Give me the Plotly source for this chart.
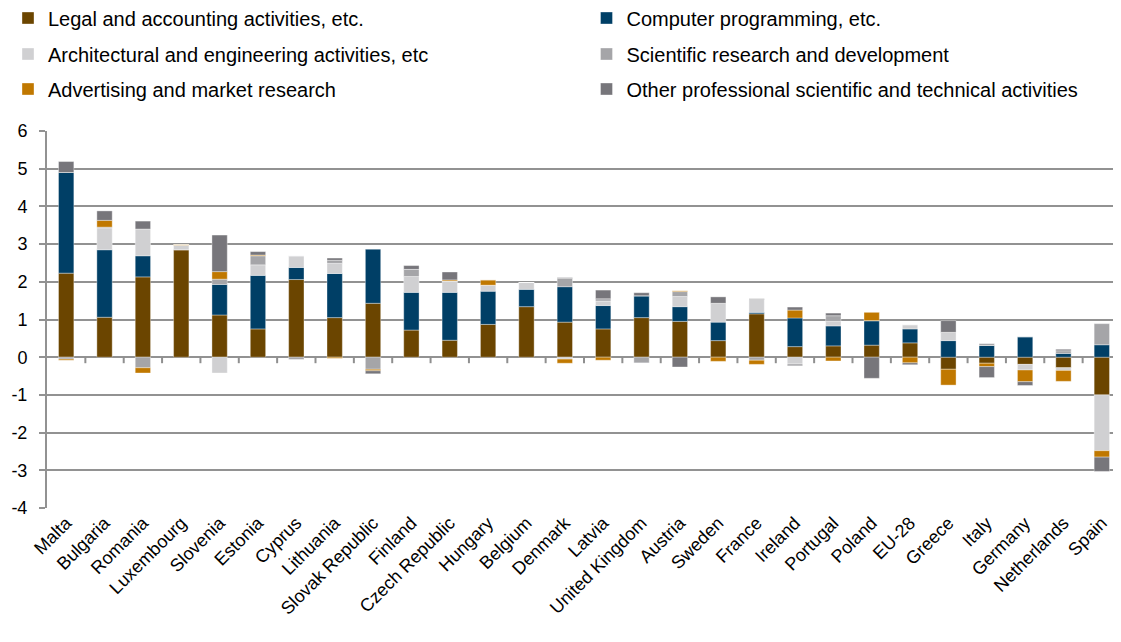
import plotly.graph_objects as go

categories = ["Malta", "Bulgaria", "Romania", "Luxembourg", "Slovenia", "Estonia", "Cyprus",
              "Lithuania", "Slovak Republic", "Finland", "Czech Republic", "Hungary", "Belgium",
              "Denmark", "Latvia", "United Kingdom", "Austria", "Sweden", "France", "Ireland",
              "Portugal", "Poland", "EU-28", "Greece", "Italy", "Germany", "Netherlands", "Spain"]

legal = [2.23, 1.06, 2.13, 2.85, 1.12, 0.75, 2.06, 1.05, 1.43, 0.72, 0.45, 0.87, 1.34, 0.93,
         0.75, 1.05, 0.95, 0.44, 1.15, 0.28, 0.30, 0.32, 0.38, -0.32, -0.16, -0.19, -0.28, -1.00]
computer = [2.67, 1.79, 0.56, 0.00, 0.81, 1.42, 0.32, 1.17, 1.44, 1.00, 1.27, 0.88, 0.46, 0.94,
            0.62, 0.58, 0.39, 0.49, 0.04, 0.76, 0.53, 0.65, 0.37, 0.44, 0.31, 0.54, 0.10, 0.33]
architectural = [0.00, 0.58, 0.71, 0.12, -0.42, 0.28, 0.31, 0.27, 0.00, 0.42, 0.30, 0.16, 0.18, -0.05,
                 0.12, 0.00, 0.27, 0.50, 0.34, -0.18, 0.12, 0.00, 0.11, 0.22, 0.00, -0.15, -0.07, -1.48]
scientific = [-0.05, 0.02, -0.28, 0.00, 0.14, 0.24, -0.06, 0.08, -0.32, 0.19, 0.00, 0.00, 0.00, 0.22,
              0.06, -0.15, 0.13, 0.00, -0.08, -0.05, 0.15, 0.00, 0.00, 0.00, 0.05, 0.00, 0.07, 0.56]
advertising = [-0.03, 0.18, -0.14, 0.02, 0.20, 0.02, 0.00, -0.03, -0.04, 0.00, 0.03, 0.14, 0.00, -0.11,
               -0.08, 0.00, 0.02, -0.11, -0.11, 0.21, -0.10, 0.22, -0.15, -0.42, -0.09, -0.31, -0.29, -0.17]
other = [0.29, 0.25, 0.21, 0.00, 0.97, 0.09, 0.00, 0.06, -0.08, 0.10, 0.21, 0.00, 0.00, 0.02,
         0.23, 0.08, -0.26, 0.17, 0.02, 0.08, 0.07, -0.56, -0.05, 0.31, -0.29, -0.10, 0.04, -0.38]

y_ticks = [-4, -3, -2, -1, 0, 1, 2, 3, 4, 5, 6]

series_names = ["Legal and accounting activities, etc.",
                "Computer programming, etc.",
                "Architectural and engineering activities, etc",
                "Scientific research and development",
                "Advertising and market research",
                "Other professional scientific and technical activities"]
series_values = [legal, computer, architectural, scientific, advertising, other]
series_colors = ["#6b4500", "#003f66", "#d0d0d2", "#a5a5a8", "#c07800", "#77767b"]

FONT = "Liberation Sans, Arial, sans-serif"
# the page body adds an 8px margin, so the figure is sized to fill the rest of the window
W, H = 1113, 634

fig = go.Figure()
legend_layouts = {}
# legend grid: two columns, three rows (row-major order as in the reference)
col_x = [-5.5, 578.5]
row_y = [10, 46, 81]
for k, (name, vals, color) in enumerate(zip(series_names, series_values, series_colors)):
    lg = "legend" if k == 0 else f"legend{k + 1}"
    fig.add_trace(go.Bar(
        x=categories, y=vals, name=name, legend=lg,
        marker=dict(color=color, line=dict(width=0.6, color="rgba(255,255,255,0.6)")),
    ))
    legend_layouts[lg] = dict(
        orientation="h", xref="container", yref="container",
        x=col_x[k % 2] / W, xanchor="left",
        y=1 - row_y[k // 2] / H, yanchor="middle",
        font=dict(family=FONT, size=20, color="#000000"),
        bgcolor="rgba(0,0,0,0)", itemwidth=30,
    )

# small tick marks on the zero line between categories
shapes = []
for i in range(1, len(categories)):
    shapes.append(dict(type="line", xref="x", yref="y", x0=i - 0.5, x1=i - 0.5,
                       ysizemode="pixel", yanchor=0, y0=0, y1=-6,
                       line=dict(color="#8f8f8f", width=2)))

fig.update_layout(
    width=W, height=H,
    barmode="relative", bargap=0.6,
    plot_bgcolor="white", paper_bgcolor="white",
    margin=dict(l=39, r=0, t=123, b=134, autoexpand=False),
    font=dict(family=FONT, size=18, color="#000000"),
    showlegend=True,
    shapes=shapes,
    xaxis=dict(range=[-0.5, len(categories) - 0.5], tickangle=-45, showgrid=False,
               showline=False, ticks="", zeroline=False, automargin=False,
               tickfont=dict(family=FONT, size=18, color="#000000")),
    yaxis=dict(range=[y_ticks[0], y_ticks[-1]], tickmode="array", tickvals=y_ticks,
               ticktext=[str(v) for v in y_ticks],
               showgrid=True, gridcolor="#929292", gridwidth=2,
               zeroline=True, zerolinecolor="#929292", zerolinewidth=2,
               showline=True, linecolor="#929292", linewidth=2, automargin=False,
               ticks="outside", ticklen=6, tickcolor="#929292", tickwidth=2,
               ticklabelstandoff=8,
               tickfont=dict(family=FONT, size=18, color="#000000")),
    **legend_layouts,
)

fig.write_html("out.html")
